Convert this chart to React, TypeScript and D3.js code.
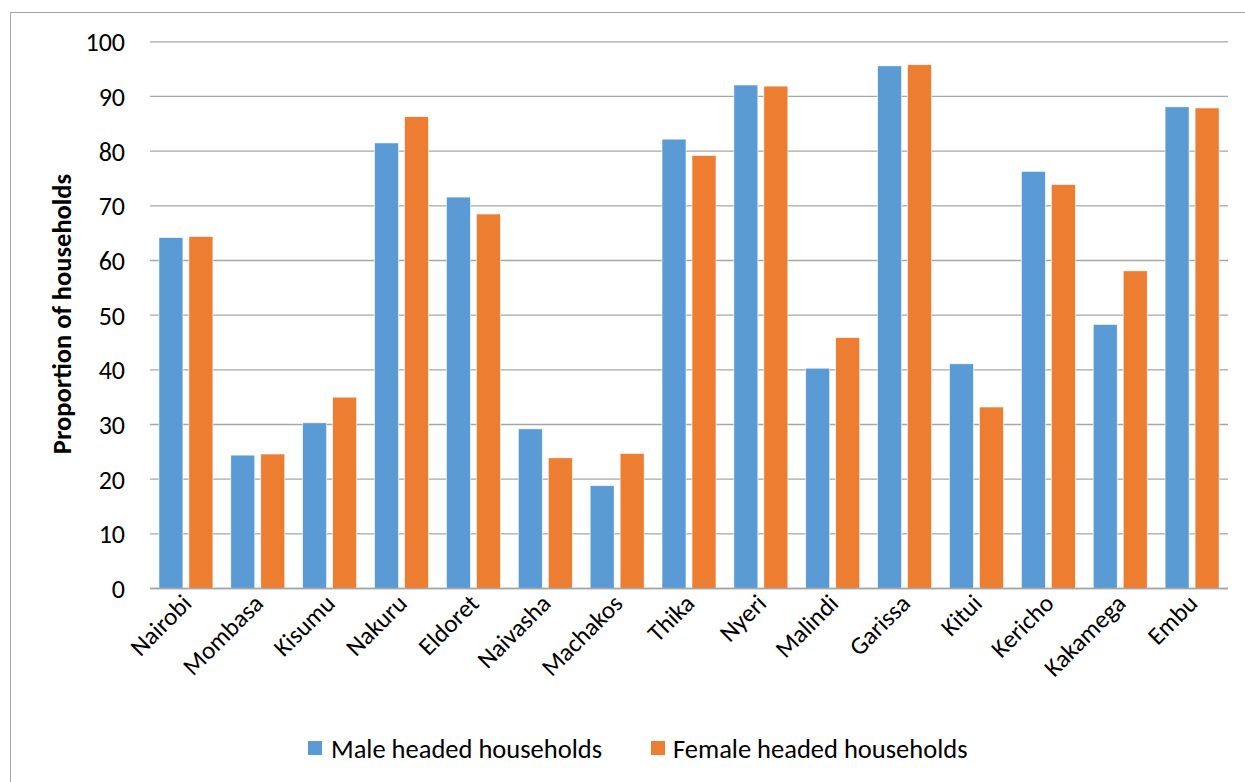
import React from "react";
import * as d3 from "d3";

const categories = ["Nairobi", "Mombasa", "Kisumu", "Nakuru", "Eldoret", "Naivasha", "Machakos", "Thika", "Nyeri", "Malindi", "Garissa", "Kitui", "Kericho", "Kakamega", "Embu"];
const maleValues = [64.2, 24.4, 30.3, 81.5, 71.6, 29.2, 18.8, 82.2, 92.1, 40.3, 95.6, 41.1, 76.3, 48.3, 88.1];
const femaleValues = [64.4, 24.6, 35.0, 86.3, 68.5, 23.9, 24.7, 79.2, 91.9, 45.9, 95.8, 33.2, 73.9, 58.1, 87.9];
const seriesNames = ["Male headed households", "Female headed households"];
const seriesColors = ["#5b9bd5", "#ed7d31"];
const yTicks = [0, 10, 20, 30, 40, 50, 60, 70, 80, 90, 100];
const yTitle = "Proportion of households";

const W = 1245;
const H = 782;
const FONT = "Carlito, Lato, 'Open Sans', sans-serif";

export default function App() {
  const x = d3.scaleBand<string>().domain(categories).range([150, 1228]).padding(0);
  const inner = d3.scaleBand<string>().domain(seriesNames).range([0, x.bandwidth()]).paddingInner(0.2).paddingOuter(0.298);
  const y = d3.scaleLinear().domain([0, 100]).range([588.5, 41.8]);
  const series = [maleValues, femaleValues];

  return (
    <svg width={W} height={H} style={{ position: "absolute", left: 0, top: 0, background: "#fff" }} fontFamily={FONT}>
      <rect x={0} y={0} width={W} height={H} fill="#fff" />
      <path d={`M10.5,${H + 5} V12.5 H${W + 5}`} fill="none" stroke="#a6a6a6" strokeWidth={1} />
      {yTicks.map((t) => (
        <g key={t}>
          <line x1={150} x2={1228} y1={y(t)} y2={y(t)} stroke="#a6a6a6" strokeWidth={1.3} />
          <text x={125} y={y(t)} dy="0.36em" textAnchor="end" fontSize={26} fill="#000">{t}</text>
        </g>
      ))}
      {categories.map((c, i) => (
        <g key={c}>
          {series.map((vals, s) => (
            <rect
              key={s}
              x={(x(c) as number) + (inner(seriesNames[s]) as number)}
              y={y(vals[i])}
              width={inner.bandwidth()}
              height={y(0) - y(vals[i])}
              fill={seriesColors[s]}
              stroke="#fff"
              strokeWidth={0.6}
            />
          ))}
          <text
            transform={`translate(${(x(c) as number) + x.bandwidth() / 2 + 7},${605}) rotate(-45)`}
            textAnchor="end"
            fontSize={25}
            fill="#000"
          >
            {c}
          </text>
        </g>
      ))}
      <line x1={150} x2={1228} y1={y(0)} y2={y(0)} stroke="#a6a6a6" strokeWidth={1.3} />
      <text transform={`translate(71,314) rotate(-90)`} textAnchor="middle" fontSize={26.5} fontWeight="bold" fill="#000">{yTitle}</text>
      <g>
        <rect x={308} y={741} width={14} height={14} fill={seriesColors[0]} />
        <text x={331} y={748} dy="0.36em" fontSize={26.5} fill="#000">{seriesNames[0]}</text>
        <rect x={651} y={741} width={14} height={14} fill={seriesColors[1]} />
        <text x={673} y={748} dy="0.36em" fontSize={26.5} fill="#000">{seriesNames[1]}</text>
      </g>
    </svg>
  );
}
